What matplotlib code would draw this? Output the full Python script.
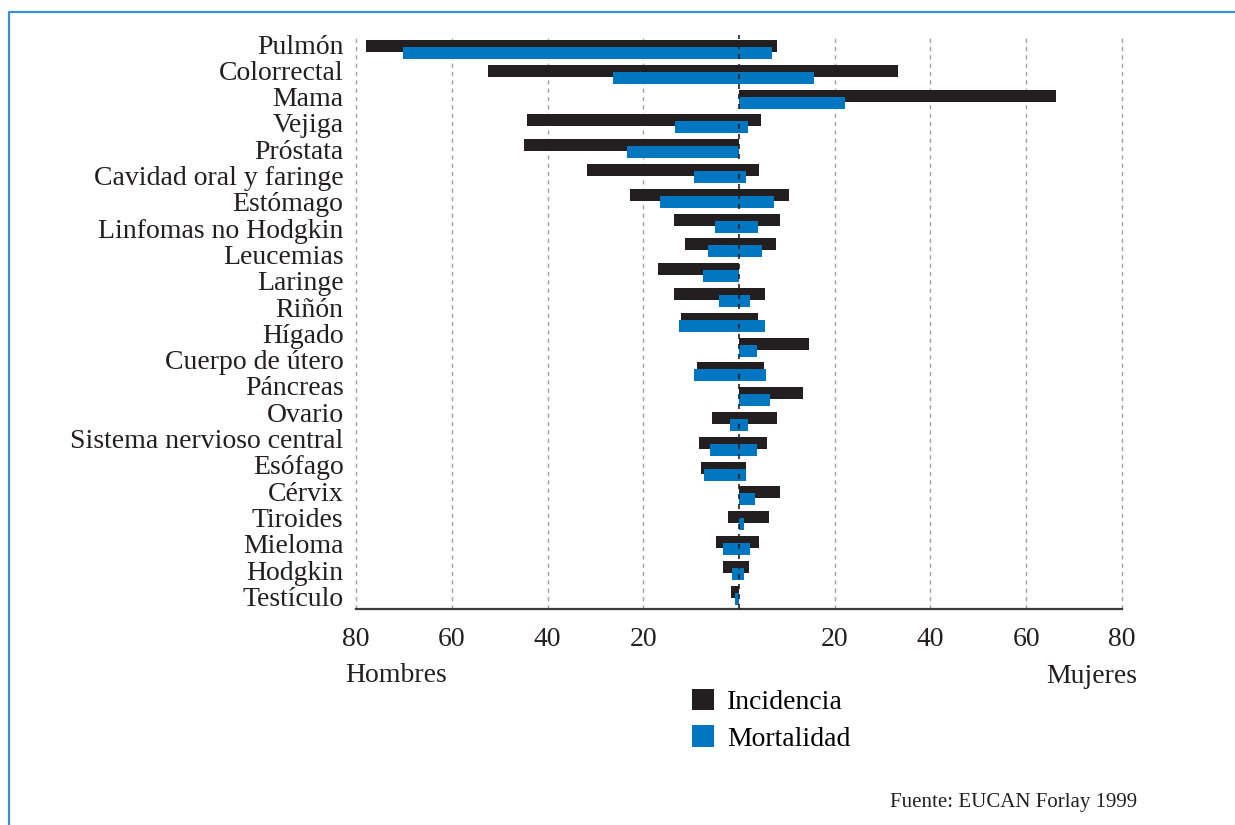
import numpy as np
import matplotlib
matplotlib.use("Agg")
import matplotlib.pyplot as plt
from matplotlib.lines import Line2D

# etiquetas tal como aparecen en la figura (22); hay 23 filas de barras
labels = [
    "Pulmón", "Colorrectal", "Mama", "Vejiga", "Próstata",
    "Cavidad oral y faringe", "Estómago", "Linfomas no Hodgkin", "Leucemias",
    "Laringe", "Riñón", "Hígado", "Cuerpo de útero", "Páncreas", "Ovario",
    "Sistema nervioso central", "Esófago", "Cérvix", "Tiroides", "Mieloma",
    "Hodgkin", "Testículo",
]

# tasas por fila (hombres en negativo a la izquierda, mujeres a la derecha)
inc_hombres = [77.9, 52.4, 0, 44.3, 44.9, 31.7, 22.8, 13.6, 11.3, 17.0, 13.6,
               12.2, 0, 8.8, 0, 5.7, 8.4, 8.0, 0, 2.2, 4.7, 3.4, 1.7]
inc_mujeres = [7.9, 33.2, 66.2, 4.5, 0, 4.1, 10.4, 8.5, 7.7, 0, 5.4,
               3.9, 14.7, 5.3, 13.3, 7.9, 5.8, 1.4, 8.5, 6.2, 4.1, 2.0, 0]
mort_hombres = [70.1, 26.4, 0, 13.4, 23.4, 9.5, 16.6, 5.1, 6.5, 7.6, 4.2,
                12.6, 0, 9.5, 0, 1.9, 6.1, 7.4, 0, 0, 3.4, 1.5, 0.9]
mort_mujeres = [6.8, 15.6, 22.1, 1.8, 0, 1.4, 7.4, 3.9, 4.7, 0, 2.2,
                5.4, 3.7, 5.6, 6.4, 1.8, 3.7, 1.4, 3.3, 1.0, 2.4, 1.0, 0]

xticks = [-80, -60, -40, -20, 20, 40, 60, 80]

NEGRO = "#231f20"
AZUL = "#0077c0"
plt.rcParams["font.family"] = ["Liberation Serif", "DejaVu Serif"]
FS = 20

W, H = 1235, 825
fig = plt.figure(figsize=(W / 100, H / 100), dpi=100)
ax = fig.add_axes([356 / W, 1 - 609 / H, 766 / W, 574 / H])

n = len(inc_hombres)
y = np.arange(n)
alto = 0.484
desp = 0.141

left_inc = -np.array(inc_hombres)
b_inc = ax.barh(y - desp, np.array(inc_mujeres) - left_inc, left=left_inc,
                height=alto, color=NEGRO, label="Incidencia", zorder=3)
left_mort = -np.array(mort_hombres)
b_mort = ax.barh(y + desp, np.array(mort_mujeres) - left_mort, left=left_mort,
                 height=alto, color=AZUL, label="Mortalidad", zorder=4)

ax.set_xlim(-80, 80)
ax.set_ylim(22.56, -0.585)

# las etiquetas estan repartidas de forma uniforme, no alineadas con cada fila
ax.set_yticks(np.linspace(-0.22, 22.05, len(labels)))
ax.set_yticklabels(labels, fontsize=FS, color=NEGRO)
ax.set_xticks(xticks)
ax.set_xticklabels([str(abs(v)) for v in xticks], fontsize=FS, color=NEGRO)
ax.tick_params(axis="both", length=0)
ax.tick_params(axis="x", pad=13)
ax.tick_params(axis="y", pad=9)

ax.grid(axis="x", color="#a0a0a0", linestyle=(0, (3, 3)), linewidth=1.0, zorder=1)
for gl in ax.get_xgridlines():
    gl.set_clip_on(False)
ax.axvline(0, color=NEGRO, linestyle=(0, (3, 3)), linewidth=1.2, zorder=5)

for s in ["top", "left", "right"]:
    ax.spines[s].set_visible(False)
ax.spines["bottom"].set_color("#3a3a3a")
ax.spines["bottom"].set_linewidth(1.6)

fig.text(345 / W, 1 - 682 / H, "Hombres", fontsize=FS, color=NEGRO,
         ha="left", va="baseline")
fig.text(1137 / W, 1 - 683 / H, "Mujeres", fontsize=FS, color=NEGRO,
         ha="right", va="baseline")
fig.text(1137 / W, 1 - 807 / H, "Fuente: EUCAN Forlay 1999", fontsize=15,
         color=NEGRO, ha="right", va="baseline")

ax.legend(handles=[b_inc, b_mort], loc="upper left",
          bbox_to_anchor=(692 / W, 1 - 689 / H), bbox_transform=fig.transFigure,
          frameon=False, fontsize=FS, handlelength=0.8, handleheight=0.8,
          handletextpad=0.45, labelspacing=0.36, borderpad=0, borderaxespad=0)

# marco azul de la pagina
fig.add_artist(Line2D([9 / W, 9 / W, 1.0], [0.0, 1 - 12 / H, 1 - 12 / H],
                      transform=fig.transFigure, color="#3d8fce", linewidth=1.6))

fig.savefig("out.png", dpi=100)
